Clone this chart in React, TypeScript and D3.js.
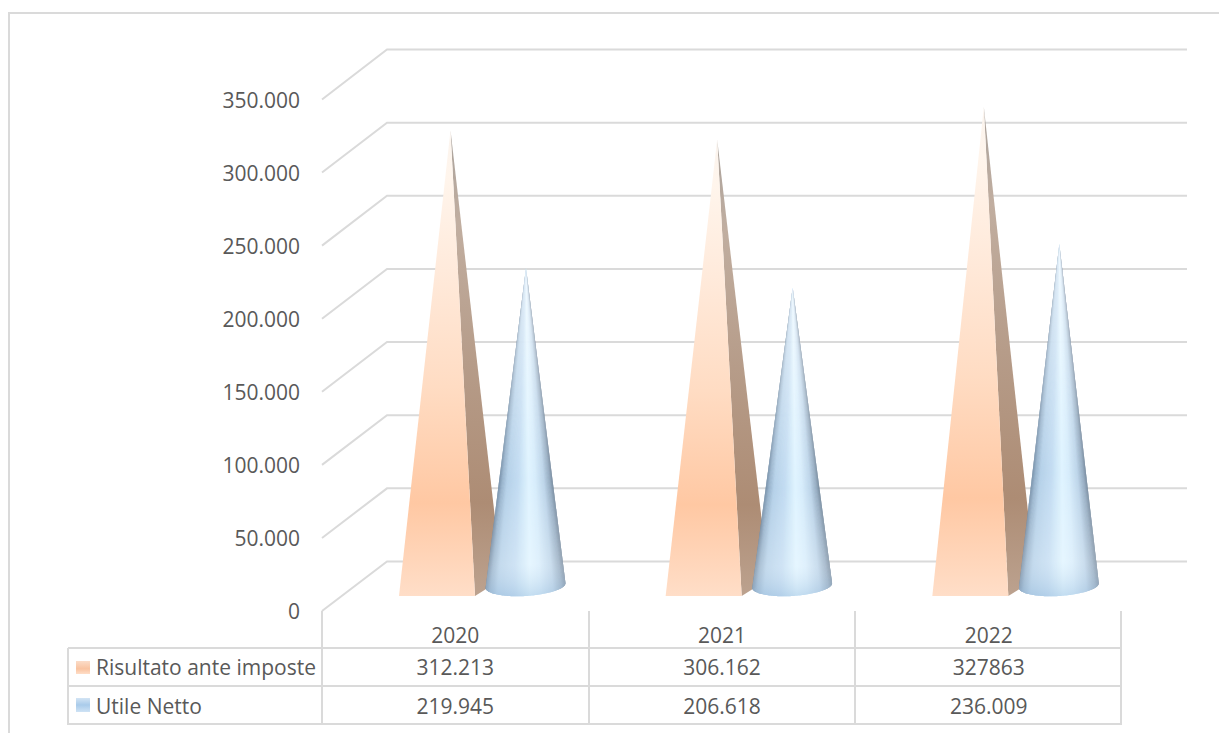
import React from "react";
import * as d3 from "d3";

// Chart content
const years = ["2020", "2021", "2022"];
const risultato = [312213, 306162, 327863];
const utile = [219945, 206618, 236009];
const risultatoLabels = ["312.213", "306.162", "327863"];
const utileLabels = ["219.945", "206.618", "236.009"];
const seriesNames = ["Risultato ante imposte", "Utile Netto"];
const tickValues = [0, 50000, 100000, 150000, 200000, 250000, 300000, 350000];

const W = 1219;
const H = 733;
const GRID = "#dadada";
const TEXT = "#595959";
const FONT = "'Open Sans', sans-serif";
const FS = 21;
const MID = "0.4em";

const it = d3.formatLocale({ decimal: ",", thousands: ".", grouping: [3], currency: ["€", ""] });
const fmt = it.format(",d");

// The floor of the 3D plot sits between the front edge and the back wall
const yFront = d3.scaleLinear().domain([0, 350000]).range([611, 99.5]);
const yBack = d3.scaleLinear().domain([0, 350000]).range([561.5, 49.5]);
const yMark = d3.scaleLinear().domain([0, 350000]).range([596, 74]);
const xBand = d3.scaleBand<string>().domain(years).range([322, 1122]);

const rowLines = [648, 686, 724];
const rowCentres = [635, 667, 706];

// Shading across a cone by horizontal position: dark rims, pale centre
const coneShade = d3
  .scaleLinear<string>()
  .domain([0, 0.05, 0.14, 0.35, 0.55, 0.68, 0.84, 0.95, 1])
  .range(["#6c87a2", "#94b0ca", "#b4d0e8", "#c2dcf2", "#dff4ff", "#d6ecfb", "#bcd4e9", "#92a9bf", "#6f8499"])
  .interpolate(d3.interpolateRgb);

function Pyramid({ x0, value }: { x0: number; value: number }) {
  const tip = yMark(value);
  const line = d3.line();
  const front = line([[x0, 596], [x0 + 76, 596], [x0 + 51.5, tip]]);
  const side = line([[x0 + 76, 596], [x0 + 103, 579], [x0 + 51.5, tip]]);
  return (
    <g>
      <path d={side ?? ""} fill="url(#pyrSide)" />
      <path d={front ?? ""} fill="url(#pyrFront)" />
    </g>
  );
}

function Cone({ x0, value }: { x0: number; value: number }) {
  const tip = yMark(value);
  const apexX = x0 + 127;
  const cx = x0 + 126.5;
  const cy = 585.5;
  const rx = 40;
  const ry = 10.5;
  const tilt = (-3.5 * Math.PI) / 180;
  const rim = (a: number): [number, number] => {
    const ex = rx * Math.cos(a);
    const ey = ry * Math.sin(a);
    return [cx + ex * Math.cos(tilt) - ey * Math.sin(tilt), cy + ex * Math.sin(tilt) + ey * Math.cos(tilt)];
  };
  const N = 90;
  // Fan of slivers from the apex round the visible half of the base; each one
  // runs under its neighbour so no seams show between them
  const slivers = d3.range(N).map((i) => {
    const a0 = Math.PI - (i / N) * Math.PI;
    const a1 = Math.PI - (Math.min(i + 2, N) / N) * Math.PI;
    const mid = Math.PI - ((i + 0.5) / N) * Math.PI;
    const d = d3.line()([[apexX, tip], rim(a0), rim((a0 + a1) / 2), rim(a1)]) + "Z";
    return <path key={i} d={d} fill={coneShade((1 + Math.cos(mid)) / 2)} />;
  });
  const outline = d3.line()([[apexX, tip], ...d3.range(N + 1).map((i) => rim((i / N) * Math.PI))]) + "Z";
  return (
    <g>
      {slivers}
      <path d={outline} fill="url(#coneGloss)" />
    </g>
  );
}

export default function App() {
  const gridD = tickValues.map(
    (v) => d3.line()([[322, yFront(v)], [387, yBack(v)], [1187, yBack(v)]]) ?? ""
  );
  const columns = [322, 589, 855, 1121];
  return (
    <svg
      width={W}
      height={H}
      viewBox={`0 0 ${W} ${H}`}
      style={{ position: "fixed", left: 0, top: 0, display: "block", background: "#fff" }}
      fontFamily={FONT}
      fontSize={FS}
      fill={TEXT}
    >
      <defs>
        <linearGradient id="pyrFront" x1="0" y1="1" x2="0" y2="0">
          <stop offset="0" stopColor="#ffdec8" />
          <stop offset="0.08" stopColor="#ffd5b9" />
          <stop offset="0.2" stopColor="#ffc8a3" />
          <stop offset="0.45" stopColor="#ffdcc3" />
          <stop offset="0.7" stopColor="#ffeadb" />
          <stop offset="0.9" stopColor="#fff5ec" />
          <stop offset="1" stopColor="#fbf4ee" />
        </linearGradient>
        <linearGradient id="pyrSide" x1="0" y1="1" x2="0" y2="0">
          <stop offset="0" stopColor="#bca28f" />
          <stop offset="0.2" stopColor="#ad8c74" />
          <stop offset="0.5" stopColor="#b69c89" />
          <stop offset="0.8" stopColor="#c1aea0" />
          <stop offset="1" stopColor="#a9a29c" />
        </linearGradient>
        <linearGradient id="coneGloss" x1="0" y1="0" x2="0" y2="1">
          <stop offset="0" stopColor="#ffffff" stopOpacity="0.5" />
          <stop offset="0.3" stopColor="#ffffff" stopOpacity="0.28" />
          <stop offset="0.65" stopColor="#ffffff" stopOpacity="0.02" />
          <stop offset="0.9" stopColor="#ffffff" stopOpacity="0.22" />
          <stop offset="1" stopColor="#9fc0de" stopOpacity="0.45" />
        </linearGradient>
        <linearGradient id="swatchA" x1="0" y1="1" x2="0" y2="0">
          <stop offset="0" stopColor="#ffdec8" />
          <stop offset="0.4" stopColor="#f9c3a0" />
          <stop offset="1" stopColor="#fbdcc8" />
        </linearGradient>
        <linearGradient id="swatchB" x1="0" y1="1" x2="0" y2="0">
          <stop offset="0" stopColor="#cfe3f5" />
          <stop offset="0.5" stopColor="#a9cbea" />
          <stop offset="1" stopColor="#d3e4f4" />
        </linearGradient>
      </defs>

      {/* Outer frame, open on the right and bottom */}
      <path d={`M${W},13 H9 V${H}`} fill="none" stroke={GRID} strokeWidth={2} />

      {/* Gridlines: slanted along the floor, flat on the back wall */}
      {gridD.map((d, i) => (
        <path key={i} d={d} fill="none" stroke={GRID} strokeWidth={2} />
      ))}

      {/* Value axis labels */}
      {tickValues.map((v) => (
        <text key={v} x={300} y={yFront(v)} dy={MID} textAnchor="end">
          {fmt(v)}
        </text>
      ))}

      {/* Series marks */}
      {years.map((yr, i) => {
        const x0 = (xBand(yr) ?? 0) + 77;
        return (
          <g key={yr}>
            <Pyramid x0={x0} value={risultato[i]} />
            <Cone x0={x0} value={utile[i]} />
          </g>
        );
      })}

      {/* Data table under the plot */}
      <g stroke={GRID} strokeWidth={2} fill="none">
        {rowLines.map((y) => (
          <line key={y} x1={68} x2={1122} y1={y} y2={y} />
        ))}
        <line x1={68} x2={68} y1={648} y2={725} />
        {columns.map((x) => (
          <line key={x} x1={x} x2={x} y1={611} y2={725} />
        ))}
      </g>
      {years.map((yr, i) => {
        const cx = (xBand(yr) ?? 0) + xBand.bandwidth() / 2;
        return (
          <g key={yr} textAnchor="middle">
            <text x={cx} y={rowCentres[0]} dy={MID}>{yr}</text>
            <text x={cx} y={rowCentres[1]} dy={MID}>{risultatoLabels[i]}</text>
            <text x={cx} y={rowCentres[2]} dy={MID}>{utileLabels[i]}</text>
          </g>
        );
      })}

      {/* Legend keys in the table's first column */}
      <rect x={76} y={661} width={14} height={13} fill="url(#swatchA)" />
      <rect x={76} y={698} width={14} height={14} fill="url(#swatchB)" />
      <text x={96} y={rowCentres[1]} dy={MID}>{seriesNames[0]}</text>
      <text x={96} y={rowCentres[2]} dy={MID}>{seriesNames[1]}</text>
    </svg>
  );
}
